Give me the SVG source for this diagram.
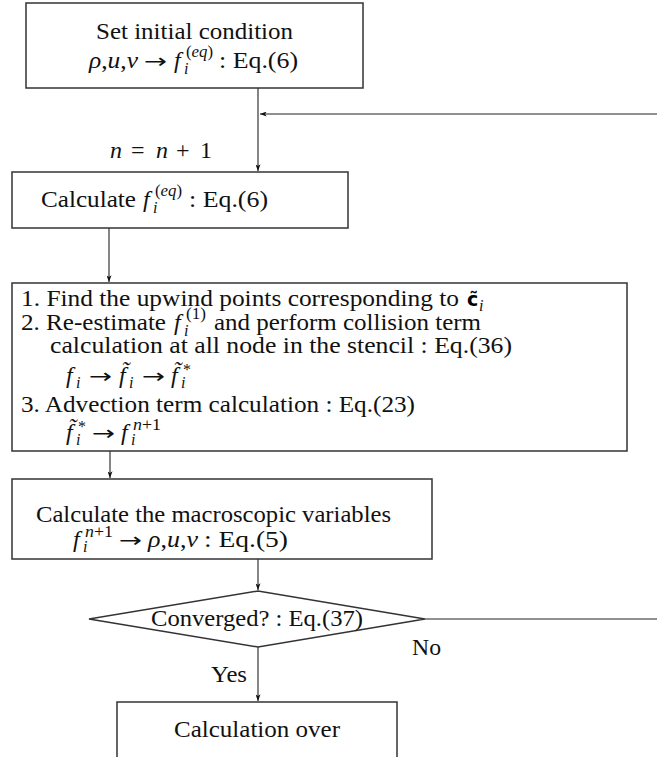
<svg xmlns="http://www.w3.org/2000/svg" width="657" height="757" viewBox="0 0 657 757">
<defs>
<style>
.t{font-family:"Liberation Serif","DejaVu Serif",serif;font-size:24px;fill:#111}
.i{font-style:italic}
.s{font-size:16px}
.ar{font-family:"DejaVu Sans","Liberation Sans",sans-serif;font-size:20px;fill:#111}
.b{font-family:"DejaVu Sans","Liberation Sans",sans-serif;font-weight:bold;font-size:19px}
.box{fill:#fff;stroke:#333;stroke-width:1.5}
.con{fill:none;stroke:#222;stroke-width:1.1}
</style>
<marker id="ah" viewBox="0 0 8 6" refX="8" refY="3" markerWidth="7" markerHeight="5" orient="auto" markerUnits="userSpaceOnUse">
<path d="M0,0 L8,3 L0,6 L2,3 z" fill="#111"/>
</marker>
</defs>
<rect x="0" y="0" width="657" height="757" fill="#fff"/>

<g id="connectors">
<path class="con" d="M258,88 V171" marker-end="url(#ah)"/>
<path class="con" d="M425,619 H672 V114 H260" marker-end="url(#ah)"/>
<path class="con" d="M109,228 V282" marker-end="url(#ah)"/>
<path class="con" d="M110,451 V478" marker-end="url(#ah)"/>
<path class="con" d="M258,559 V590" marker-end="url(#ah)"/>
<path class="con" d="M258,647 V701" marker-end="url(#ah)"/>
</g>

<g id="label-n">
<text class="t i" x="110" y="158">n</text>
<text class="t" x="131" y="158">=</text>
<text class="t i" x="156" y="158">n</text>
<text class="t" x="176" y="158">+</text>
<text class="t" x="200" y="158">1</text>
</g>

<g id="node-init">
<rect class="box" x="26" y="3" width="337" height="85"/>
<text class="t" x="96" y="39" textLength="197" lengthAdjust="spacingAndGlyphs">Set initial condition</text>
<text class="t" x="89" y="68" textLength="49" lengthAdjust="spacingAndGlyphs"><tspan class="i">ρ</tspan>,<tspan class="i">u</tspan>,<tspan class="i">v</tspan></text>
<text class="ar" x="144" y="68" textLength="23" lengthAdjust="spacingAndGlyphs">→</text>
<text class="t i" x="174" y="68">f</text>
<text class="t s i" x="184" y="74">i</text>
<text class="t s" x="186" y="57" textLength="27" lengthAdjust="spacingAndGlyphs">(<tspan class="i">eq</tspan>)</text>
<text class="t" x="219" y="68" textLength="79" lengthAdjust="spacingAndGlyphs">: Eq.(6)</text>
</g>

<g id="node-feq">
<rect class="box" x="12" y="172" width="336" height="56"/>
<text class="t" x="41" y="207" textLength="95" lengthAdjust="spacingAndGlyphs">Calculate</text>
<text class="t i" x="143" y="207">f</text>
<text class="t s i" x="153" y="213">i</text>
<text class="t s" x="155" y="196" textLength="27" lengthAdjust="spacingAndGlyphs">(<tspan class="i">eq</tspan>)</text>
<text class="t" x="189" y="207" textLength="79" lengthAdjust="spacingAndGlyphs">: Eq.(6)</text>
</g>

<g id="node-steps">
<rect class="box" x="12" y="283" width="615" height="168"/>
<text class="t" x="21" y="306" textLength="438" lengthAdjust="spacingAndGlyphs">1. Find the upwind points corresponding to</text>
<text class="b" x="467" y="306">c̃</text>
<text class="t s i" x="479" y="311">i</text>

<text class="t" x="21" y="330" textLength="145" lengthAdjust="spacingAndGlyphs">2. Re-estimate</text>
<text class="t i" x="174" y="330">f</text>
<text class="t s i" x="184" y="336">i</text>
<text class="t s" x="186" y="319" textLength="20" lengthAdjust="spacingAndGlyphs">(1)</text>
<text class="t" x="214" y="330" textLength="267" lengthAdjust="spacingAndGlyphs">and perform collision term</text>

<text class="t" x="50" y="353" textLength="462" lengthAdjust="spacingAndGlyphs">calculation at all node in the stencil : Eq.(36)</text>

<text class="t i" x="66" y="383">f</text>
<text class="t s i" x="76" y="388">i</text>
<text class="ar" x="89" y="383" textLength="23" lengthAdjust="spacingAndGlyphs">→</text>
<text class="t i" x="119" y="383">f̃</text>
<text class="t s i" x="129" y="388">i</text>
<text class="ar" x="142" y="383" textLength="23" lengthAdjust="spacingAndGlyphs">→</text>
<text class="t i" x="171" y="383">f̃</text>
<text class="t s" x="183" y="375">*</text>
<text class="t s i" x="181" y="388">i</text>

<text class="t" x="21" y="412" textLength="394" lengthAdjust="spacingAndGlyphs">3. Advection term calculation : Eq.(23)</text>

<text class="t i" x="66" y="440">f̃</text>
<text class="t s" x="78" y="432">*</text>
<text class="t s i" x="76" y="445">i</text>
<text class="ar" x="92" y="440" textLength="23" lengthAdjust="spacingAndGlyphs">→</text>
<text class="t i" x="121" y="440">f</text>
<text class="t s i" x="131" y="445">i</text>
<text class="t s" x="133" y="430" textLength="28" lengthAdjust="spacingAndGlyphs"><tspan class="i">n</tspan>+1</text>
</g>

<g id="node-macro">
<rect class="box" x="12" y="479" width="420" height="80"/>
<text class="t" x="36" y="522" textLength="355" lengthAdjust="spacingAndGlyphs">Calculate the macroscopic variables</text>
<text class="t i" x="73" y="547">f</text>
<text class="t s i" x="83" y="552">i</text>
<text class="t s" x="85" y="537" textLength="28" lengthAdjust="spacingAndGlyphs"><tspan class="i">n</tspan>+1</text>
<text class="ar" x="119" y="547" textLength="23" lengthAdjust="spacingAndGlyphs">→</text>
<text class="t" x="148" y="547" textLength="50" lengthAdjust="spacingAndGlyphs"><tspan class="i">ρ</tspan>,<tspan class="i">u</tspan>,<tspan class="i">v</tspan></text>
<text class="t" x="204" y="547" textLength="84" lengthAdjust="spacingAndGlyphs">: Eq.(5)</text>
</g>

<g id="node-converged">
<polygon class="box" points="89,619 258,591 425,619 258,647"/>
<text class="t" x="151" y="626" textLength="212" lengthAdjust="spacingAndGlyphs">Converged? : Eq.(37)</text>
</g>

<g id="label-no">
<text class="t" x="412" y="655" textLength="29" lengthAdjust="spacingAndGlyphs">No</text>
</g>
<g id="label-yes">
<text class="t" x="211" y="682" textLength="36" lengthAdjust="spacingAndGlyphs">Yes</text>
</g>

<g id="node-over">
<rect class="box" x="117" y="702" width="280" height="80"/>
<text class="t" x="174" y="737" textLength="166" lengthAdjust="spacingAndGlyphs">Calculation over</text>
</g>
</svg>
